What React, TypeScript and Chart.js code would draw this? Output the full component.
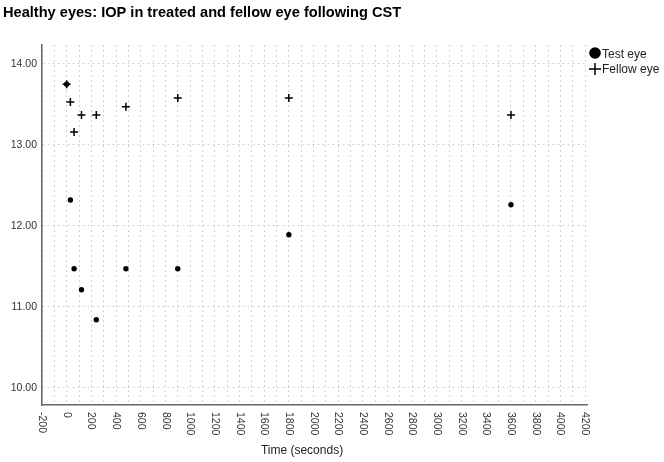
import { useEffect, useRef } from "react";
import { Chart, registerables } from "chart.js";

Chart.register(...registerables);

const TITLE = "Healthy eyes: IOP in treated and fellow eye following CST";
const X_TITLE = "Time (seconds)";
const SERIES_NAMES = ["Test eye", "Fellow eye"];

const timePoints = [0, 30, 60, 120, 240, 480, 900, 1800, 3600];
const testEye = [13.75, 12.32, 11.47, 11.21, 10.84, 11.47, 11.47, 11.89, 12.26];
const fellowEye = [13.75, 13.53, 13.16, 13.37, 13.37, 13.47, 13.58, 13.58, 13.37];

const xTickLabels = [-200, 0, 200, 400, 600, 800, 1000, 1200, 1400, 1600, 1800, 2000, 2200, 2400, 2600, 2800, 3000, 3200, 3400, 3600, 3800, 4000, 4200];
const xGridValues = [-200, -100, 0, 100, 200, 300, 400, 500, 600, 700, 800, 900, 1000, 1100, 1200, 1300, 1400, 1500, 1600, 1700, 1800, 1900, 2000, 2100, 2200, 2300, 2400, 2500, 2600, 2700, 2800, 2900, 3000, 3100, 3200, 3300, 3400, 3500, 3600, 3700, 3800, 3900, 4000, 4100, 4200];
const yTickLabels = [10, 11, 12, 13, 14];

const FONT = "'Liberation Sans', Arial, sans-serif";

const overlayPlugin = {
  id: "overlay",
  afterDraw(chart: any) {
    const ctx = chart.ctx;
    const xs = chart.scales.x;
    const ys = chart.scales.y;
    const area = chart.chartArea;
    ctx.save();
    // title
    ctx.fillStyle = "#000";
    ctx.font = `bold 14.6px ${FONT}`;
    ctx.textAlign = "left";
    ctx.textBaseline = "alphabetic";
    ctx.fillText(TITLE, 3, 17);

    // y tick labels
    ctx.fillStyle = "#333";
    ctx.font = `10.5px ${FONT}`;
    ctx.textAlign = "right";
    ctx.textBaseline = "middle";
    yTickLabels.forEach((v) => {
      ctx.fillText(v.toFixed(2), area.left - 5, ys.getPixelForValue(v));
    });

    // x tick labels, rotated clockwise
    ctx.textAlign = "left";
    ctx.textBaseline = "middle";
    xTickLabels.forEach((v) => {
      const px = xs.getPixelForValue(v);
      ctx.save();
      ctx.translate(px, area.bottom + 7);
      ctx.rotate(Math.PI / 2);
      ctx.fillText(String(v), 0, 0);
      ctx.restore();
    });

    // x axis title
    ctx.fillStyle = "#222";
    ctx.font = `12px ${FONT}`;
    ctx.textAlign = "center";
    ctx.textBaseline = "middle";
    ctx.fillText(X_TITLE, 302, 451);

    // legend
    const lx = 595;
    ctx.fillStyle = "#000";
    ctx.beginPath();
    ctx.arc(lx, 53, 5.8, 0, Math.PI * 2);
    ctx.fill();
    ctx.strokeStyle = "#000";
    ctx.lineWidth = 1.5;
    ctx.beginPath();
    ctx.moveTo(lx - 6, 69);
    ctx.lineTo(lx + 6, 69);
    ctx.moveTo(lx, 63);
    ctx.lineTo(lx, 75);
    ctx.stroke();
    ctx.fillStyle = "#222";
    ctx.font = `12px ${FONT}`;
    ctx.textAlign = "left";
    ctx.textBaseline = "middle";
    ctx.fillText(SERIES_NAMES[0], 602, 55);
    ctx.fillText(SERIES_NAMES[1], 602, 69.5);
    ctx.restore();
  },
};

export default function App() {
  const ref = useRef<HTMLCanvasElement | null>(null);
  useEffect(() => {
    if (!ref.current) return;
    const chart = new Chart(ref.current, {
      type: "scatter",
      data: {
        datasets: [
          {
            label: SERIES_NAMES[1],
            data: timePoints.map((t, i) => ({ x: t, y: fellowEye[i] })),
            pointStyle: "cross",
            pointRadius: 4,
            borderColor: "#000",
            backgroundColor: "#000",
            borderWidth: 1.5,
          },
          {
            label: SERIES_NAMES[0],
            data: timePoints.map((t, i) => ({ x: t, y: testEye[i] })),
            pointStyle: "circle",
            pointRadius: 2.7,
            borderWidth: 0,
            borderColor: "#000",
            backgroundColor: "#000",
          },
        ],
      },
      options: {
        responsive: false,
        animation: false,
        layout: { padding: { left: 42, top: 45, right: 77, bottom: 57 } },
        plugins: {
          legend: { display: false },
          title: { display: false },
          tooltip: { enabled: false },
        },
        scales: {
          x: {
            type: "linear",
            min: -200,
            max: 4216,
            afterBuildTicks: (scale: any) => {
              scale.ticks = xGridValues.map((v) => ({ value: v }));
            },
            ticks: { display: false },
            grid: {
              color: "#d0d0d0",
              lineWidth: 1,
              drawTicks: false,
            },
            border: { display: true, color: "#666", width: 1.5, dash: [2, 3] },
          },
          y: {
            type: "linear",
            min: 9.787,
            max: 14.234,
            afterBuildTicks: (scale: any) => {
              scale.ticks = yTickLabels.map((v) => ({ value: v }));
            },
            ticks: { display: false },
            grid: {
              color: "#d0d0d0",
              lineWidth: 1,
              drawTicks: false,
            },
            border: { display: true, color: "#666", width: 1.5, dash: [2, 3] },
          },
        },
      } as any,
      plugins: [overlayPlugin],
    });
    return () => chart.destroy();
  }, []);
  return (
    <div style={{ position: "fixed", left: 0, top: 0, width: 664, height: 462, background: "#fff" }}>
      <canvas ref={ref} width={664} height={462} />
    </div>
  );
}
